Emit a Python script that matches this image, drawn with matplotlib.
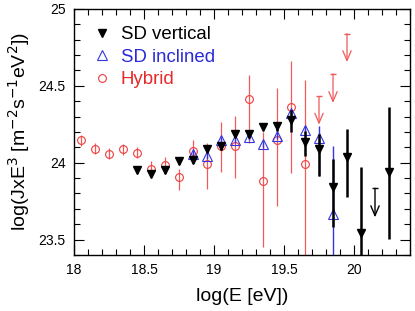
import matplotlib
matplotlib.use("Agg")
import matplotlib.pyplot as plt
from matplotlib.lines import Line2D
from matplotlib.ticker import MultipleLocator

plt.rcParams['font.family'] = ['Liberation Sans', 'DejaVu Sans']

# Hybrid (red open circles)
hyb_x = [18.05, 18.15, 18.25, 18.35, 18.45, 18.55, 18.65, 18.75, 18.85,
         18.95, 19.05, 19.15, 19.25, 19.35, 19.45, 19.55, 19.65]
hyb_y = [24.147, 24.091, 24.059, 24.087, 24.065, 23.962, 23.983, 23.905, 24.076,
         23.990, 24.108, 24.108, 24.414, 23.882, 24.147, 24.363, 23.990]
hyb_up = [0.035, 0.035, 0.035, 0.035, 0.035, 0.050, 0.057, 0.055, 0.075,
          0.140, 0.155, 0.194, 0.157, 0.320, 0.338, 0.301, 0.545]
hyb_lo = [0.035, 0.035, 0.035, 0.035, 0.035, 0.040, 0.050, 0.085, 0.076,
          0.162, 0.170, 0.204, 0.284, 0.431, 0.431, 0.432, 0.800]
# Hybrid upper limits
hyb_lim_x = [19.75, 19.85, 19.95]
hyb_lim_top = [24.431, 24.578, 24.840]
hyb_lim_tip = [24.248, 24.389, 24.655]

# SD vertical (black filled down triangles)
sdv_x = [18.45, 18.55, 18.65, 18.75, 18.85, 18.95, 19.05, 19.15, 19.25,
         19.35, 19.45, 19.55, 19.65, 19.75, 19.85, 19.95, 20.05, 20.25]
sdv_y = [23.953, 23.927, 23.953, 24.014, 24.018, 24.087, 24.106, 24.190, 24.184,
         24.235, 24.237, 24.278, 24.135, 24.088, 23.840, 24.035, 23.540, 23.937]
sdv_up = [0.02, 0.02, 0.02, 0.02, 0.02, 0.02, 0.02, 0.02, 0.02,
          0.02, 0.03, 0.067, 0.070, 0.096, 0.183, 0.186, 0.430, 0.426]
sdv_lo = [0.02, 0.02, 0.02, 0.02, 0.02, 0.02, 0.02, 0.02, 0.02,
          0.02, 0.03, 0.075, 0.090, 0.174, 0.260, 0.260, 0.400, 0.430]
# SD vertical upper limit
sdv_lim_x = [20.15]
sdv_lim_top = [23.834]
sdv_lim_tip = [23.645]

# SD inclined (blue open up triangles)
sdi_x = [18.85, 18.95, 19.05, 19.15, 19.25, 19.35, 19.45, 19.55, 19.65, 19.75, 19.85]
sdi_y = [24.055, 24.043, 24.150, 24.151, 24.169, 24.119, 24.177, 24.324, 24.216, 24.162, 23.666]
sdi_up = [0.02, 0.02, 0.02, 0.02, 0.02, 0.02, 0.02, 0.02, 0.02, 0.080, 0.442]
sdi_lo = [0.02, 0.02, 0.02, 0.02, 0.02, 0.02, 0.02, 0.02, 0.02, 0.250, 0.400]

red = '#f03c3c'
red_err = '#f25a5a'
blue = '#3535e0'

fig = plt.figure(figsize=(4.15, 3.11), dpi=100)
ax = fig.add_axes([74/415, 56/311, 336/415, 246/311])

# hybrid
ax.errorbar(hyb_x, hyb_y, yerr=[hyb_lo, hyb_up], fmt='o', ms=5.6, mfc='none',
            mec=red, mew=0.8, ecolor=red_err, elinewidth=0.9, capsize=0, zorder=2)
ax.plot(hyb_lim_x, hyb_lim_top, ls='none', marker='_', ms=5, mew=1, color=red_err, zorder=2)
for x, t, b in zip(hyb_lim_x, hyb_lim_top, hyb_lim_tip):
    ax.annotate('', xy=(x, b), xytext=(x, t),
                arrowprops=dict(arrowstyle='->,head_length=0.7,head_width=0.3',
                                color=red_err, lw=0.9, shrinkA=0, shrinkB=0))

# SD inclined
ax.errorbar(sdi_x, sdi_y, yerr=[sdi_lo, sdi_up], fmt='^', ms=6.5, mfc='none',
            mec=blue, mew=0.8, ecolor=blue, elinewidth=1.0, capsize=0, zorder=3)

# SD vertical
ax.errorbar(sdv_x, sdv_y, yerr=[sdv_lo, sdv_up], fmt='v', ms=6, mfc='black',
            mec='black', ecolor='black', elinewidth=1.8, capsize=0, zorder=4)
ax.plot(sdv_lim_x, sdv_lim_top, ls='none', marker='_', ms=5, mew=1, color='black', zorder=4)
for x, t, b in zip(sdv_lim_x, sdv_lim_top, sdv_lim_tip):
    ax.annotate('', xy=(x, b), xytext=(x, t),
                arrowprops=dict(arrowstyle='->,head_length=0.7,head_width=0.3',
                                color='black', lw=1.0, shrinkA=0, shrinkB=0))

ax.set_xlim(18, 20.4)
ax.set_ylim(23.4, 25)
ax.xaxis.set_minor_locator(MultipleLocator(0.1))
ax.yaxis.set_minor_locator(MultipleLocator(0.1))
ax.set_xticks([18, 18.5, 19, 19.5, 20])
ax.set_xticklabels(['18', '18.5', '19', '19.5', '20'])
ax.set_yticks([23.5, 24, 24.5, 25])
ax.set_yticklabels(['23.5', '24', '24.5', '25'])
ax.tick_params(which='both', direction='in', top=True, right=True, width=0.8, labelsize=10)
ax.tick_params(which='major', length=7, pad=6)
ax.tick_params(which='minor', length=4)
for s in ax.spines.values():
    s.set_linewidth(1.0)

ax.set_xlabel('log(E [eV])', fontsize=14, labelpad=8)
ax.set_ylabel(r'log(JxE$^3$ [m$^{-2}$s$^{-1}$eV$^2$])', fontsize=14, labelpad=4.5)

handles = [
    Line2D([], [], ls='none', marker='v', ms=6, mfc='black', mec='black'),
    Line2D([], [], ls='none', marker='^', ms=6.5, mfc='none', mec=blue, mew=0.8),
    Line2D([], [], ls='none', marker='o', ms=5.6, mfc='none', mec=red, mew=0.8),
]
ax.legend(handles, ['SD vertical', 'SD inclined', 'Hybrid'], loc='upper left',
          bbox_to_anchor=(0.056, 0.93), frameon=False, fontsize=13.4,
          labelcolor=['black', '#2a2ad8', '#e62a2a'], handlelength=1.0, handletextpad=0.5,
          labelspacing=0.3, borderpad=0, borderaxespad=0)

fig.savefig('out.png', dpi=100)
